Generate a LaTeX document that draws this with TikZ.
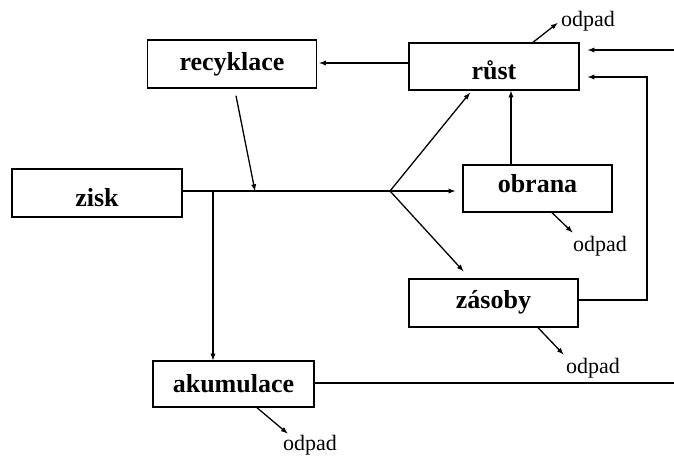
\documentclass[tikz,border=0pt]{standalone}
\usepackage{fontspec}
\setmainfont{Liberation Serif}
\usetikzlibrary{arrows}
\usetikzlibrary{math}

\tikzset{
  blok/.style={draw, line width=1.4pt, inner sep=0pt, text height=#1, text depth=0pt,
    font=\bfseries\fontsize{26}{26}\selectfont},
  blok/.default=18pt,
  odpadlbl/.style={font=\fontsize{22}{22}\selectfont},
  tok/.style={-latex, line width=1.3pt}
}

\begin{document}
\begin{tikzpicture}[x=1pt,y=-1pt]
\tikzmath{
\W=169;
\H=47;
}
\useasboundingbox (0,0) rectangle (674,457);
%boxes
\node[blok=14pt, minimum width=\W, minimum height=\H+1] (recyklace) at (232,64) {recyklace};
\node[blok=27pt, minimum width=\W+1, minimum height=\H] (rust) at (494,66.5) {růst};
\node[blok=28pt, minimum width=\W+1, minimum height=\H+1] (zisk) at (97,193) {zisk};
\node[blok=9pt, minimum width=149, minimum height=\H] (obrana) at (537.5,188.5) {obrana};
\node[blok=10pt, minimum width=\W, minimum height=\H+1] (zasoby) at (493.5,303) {zásoby};
\node[blok=16pt, minimum width=161, minimum height=\H-1] (akumulace) at (233.5,384) {akumulace};
%odpad labels
\node[odpadlbl] (odR) at (588,21) {odpad};
\node[odpadlbl] (odO) at (600,246) {odpad};
\node[odpadlbl] (odZ) at (593,368) {odpad};
\node[odpadlbl] (odA) at (310,445) {odpad};
%points on the main line
\coordinate (split) at (213,191);
\coordinate (join) at (255,191);
\coordinate (branch) at (390,191);
\coordinate (loop) at (647,77);
\coordinate (edgeA) at (674,50);
\coordinate (edgeB) at (674,383);

%main line
\draw[line width=1.3pt] (zisk.east |- branch) -- (branch);
\draw[tok] ([xshift=4pt,yshift=-7pt]recyklace.south) -- (join);
\draw[tok] (split) -- (split |- akumulace.north);
\draw[tok] (branch) -- ([xshift=-7pt]obrana.west |- branch);
\draw[tok] (branch) -- ([xshift=-24pt,yshift=-2pt]rust.south);
\draw[tok] (branch) -- ([xshift=-30pt,yshift=7pt]zasoby.north);
%feedback
\draw[tok] ([yshift=3.5pt]rust.west) -- ([xshift=2pt,yshift=3.5pt]recyklace.east |- rust.west);
\draw[tok] ([xshift=-26.5pt]obrana.north) -- ([xshift=-26.5pt]obrana.north |- rust.south);
\draw[tok] ([yshift=3pt]zasoby.east) -| (loop) -- ([xshift=8pt]rust.east |- loop);
\draw[tok] (edgeA) -- ([xshift=8pt]rust.east |- edgeA);
\draw[line width=1.3pt] (akumulace.east |- edgeB) -- (edgeB);
%odpad
\draw[tok] ([xshift=39pt]rust.north) -- ([yshift=-2pt]odR.west);
\draw[tok] ([xshift=14.5pt]obrana.south) -- ([xshift=3pt]odO.north west);
\draw[tok] ([xshift=44.5pt]zasoby.south) -- ([xshift=1pt]odZ.north west);
\draw[tok] ([xshift=23.5pt]akumulace.south) -- ([xshift=8pt,yshift=-2pt]odA.north west);
\end{tikzpicture}
\end{document}
